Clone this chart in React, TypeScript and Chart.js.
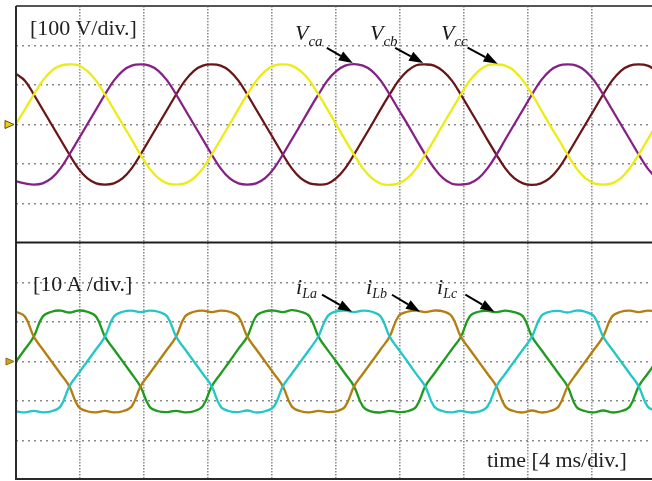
import React, { useEffect, useRef } from 'react';
import { Chart, registerables } from 'chart.js';

Chart.register(...registerables);

// ---- sampling grid (time axis, ms) : one sample every 1/24 of the mains period ----
const STEP_MS = 0.556;
const timeMs: number[] = Array.from({ length: 73 }, (_, i) => Math.round(i * STEP_MS * 1000) / 1000);

// ---- axis divisions ----
const xGridMs = [4, 8, 12, 16, 20, 24, 28, 32, 36];
const voltGrid = [-200, -100, 0, 100, 200];
const currGrid = [-20, -10, 0, 10, 20];
const X_MAX_MS = 39.75;

// ---- capacitor voltages [V] ----
const vca = [
  -144, -149, -152, -149, -136, -111, -76, -38,
  0, 38, 76, 111, 136, 149, 152, 149, 136, 111, 76, 38, 0, -38, -76, -111, -136, -149, -152, -149, -136, -111, -76, -38,
  0, 39, 76, 111, 135, 149, 153, 149, 136, 111, 76, 38, 1, -38, -76, -110, -136, -150, -152, -149, -136, -111, -77, -38,
  0, 38, 76, 111, 136, 149, 152, 149, 136, 111, 76, 38, 0, -38, -76, -111, -136,
];
const vcb = [
  128, 111, 76, 38, 0, -38, -76, -111, -136, -149, -152, -149, -136, -111, -76, -38,
  0, 38, 76, 111, 136, 149, 152, 149, 136, 111, 76, 38, 0, -38, -76, -111, -136, -149, -152, -150, -136, -111, -76, -38,
  0, 39, 76, 111, 136, 150, 152, 149, 135, 111, 76, 38, 0, -39, -76, -111, -136, -149, -153, -149, -136, -111, -76, -38,
  0, 38, 76, 111, 136, 149, 152, 149, 136,
];
const vcc = [
  2, 38, 76, 111, 136, 149, 152, 150, 136, 111, 76, 38, 0, -38, -77, -111, -136, -149, -152, -149, -136, -111, -76, -38,
  0, 39, 76, 110, 135, 149, 152, 149, 135, 111, 76, 39, 0, -39, -76, -111, -136, -150, -153, -149, -136, -111, -76, -39,
  0, 38, 76, 111, 136, 150, 152, 149, 136, 111, 77, 38, -1, -38, -76, -111, -136, -149, -152, -149, -136, -110, -76, -38,
  0,
];

// ---- line currents [A] ----
const iLa = [
  -12.6, -12.9, -12.5, -12.9, -12.6, -11.4, -6.3, -3.1,
  0, 3.1, 6.3, 11.4, 12.6, 12.9, 12.5, 12.9, 12.6, 11.4, 6.3, 3.1, 0, -3.1, -6.3, -11.4, -12.6, -12.8, -12.4, -12.9, -12.6, -11.4, -6.3, -3.1,
  0, 3.1, 6.4, 11.4, 12.7, 12.9, 12.5, 12.9, 12.6, 11.4, 6.3, 3.1, 0, -3.2, -6.3, -11.4, -12.6, -12.9, -12.5, -12.9, -12.7, -11.4, -6.3, -3.1,
  0, 3.1, 6.3, 11.4, 12.6, 12.8, 12.4, 12.9, 12.6, 11.4, 6.3, 3.1, 0, -3.1, -6.3, -11.4, -12.6,
];
const iLb = [
  12.6, 11.4, 6.3, 3.1, 0, -3.1, -6.3, -11.4, -12.6, -12.9, -12.5, -12.9, -12.6, -11.4, -6.3, -3.1,
  0, 3.1, 6.3, 11.4, 12.6, 12.9, 12.5, 12.9, 12.6, 11.4, 6.3, 3.1, 0, -3.1, -6.3, -11.4, -12.6, -12.9, -12.5, -12.8, -12.6, -11.4, -6.3, -3.1,
  0, 3.1, 6.3, 11.5, 12.6, 12.9, 12.5, 12.9, 12.7, 11.4, 6.3, 3.1, 0, -3.1, -6.3, -11.4, -12.6, -12.9, -12.4, -12.9, -12.6, -11.4, -6.4, -3.1,
  0, 3.1, 6.3, 11.4, 12.6, 12.9, 12.5, 12.9, 12.6,
];
const iLc = [
  0, 3.1, 6.3, 11.4, 12.6, 12.9, 12.4, 12.9, 12.6, 11.4, 6.3, 3.1, 0, -3.1, -6.4, -11.4, -12.6, -12.8, -12.5, -12.9, -12.6, -11.3, -6.3, -3.1,
  0, 3.2, 6.3, 11.5, 12.7, 12.9, 12.5, 13.0, 12.6, 11.4, 6.3, 3.0, 0, -3.1, -6.3, -11.4, -12.7, -12.9, -12.5, -12.8, -12.6, -11.4, -6.3, -3.1,
  0, 3.1, 6.2, 11.4, 12.6, 12.8, 12.5, 12.9, 12.5, 11.4, 6.3, 3.1, 0, -3.1, -6.3, -11.5, -12.6, -12.9, -12.4, -12.9, -12.6, -11.4, -6.3, -3.1,
  0,
];

// ---- annotation arrows: tip in data units, tail as pixel offset ----
const voltArrows = [
  { t: 21.05, v: 156, dx: -26, dy: -15 },
  { t: 25.45, v: 156, dx: -28, dy: -15 },
  { t: 30.1, v: 154, dx: -30, dy: -16 },
];
const currArrows = [
  { t: 21.0, v: 12.6, dx: -30, dy: -17 },
  { t: 25.25, v: 12.6, dx: -28, dy: -17 },
  { t: 29.9, v: 12.6, dx: -29, dy: -17 },
];

const toXY = (ys: number[]) => ys.map((y, i) => ({ x: timeMs[i], y }));

function drawArrow(ctx: CanvasRenderingContext2D, x0: number, y0: number, x1: number, y1: number) {
  const ang = Math.atan2(y1 - y0, x1 - x0);
  const head = 14;
  const w = 5;
  const bx = x1 - head * Math.cos(ang);
  const by = y1 - head * Math.sin(ang);
  ctx.strokeStyle = '#000';
  ctx.fillStyle = '#000';
  ctx.lineWidth = 2;
  ctx.beginPath();
  ctx.moveTo(x0, y0);
  ctx.lineTo(bx, by);
  ctx.stroke();
  ctx.beginPath();
  ctx.moveTo(x1, y1);
  ctx.lineTo(bx - w * Math.sin(ang), by + w * Math.cos(ang));
  ctx.lineTo(bx + w * Math.sin(ang), by - w * Math.cos(ang));
  ctx.closePath();
  ctx.fill();
}

const scopePlugin = {
  id: 'scopeFrame',
  afterDraw(chart: any) {
    const { ctx, chartArea: a, scales } = chart;
    const x = scales.x;
    const yV = scales.yV;
    const yI = scales.yI;
    ctx.save();
    ctx.setLineDash([]);
    // frame
    ctx.lineWidth = 2;
    ctx.strokeStyle = '#555';
    ctx.beginPath();
    ctx.moveTo(a.left, a.top);
    ctx.lineTo(a.right, a.top);
    ctx.stroke();
    ctx.strokeStyle = '#2a2a2a';
    ctx.beginPath();
    ctx.moveTo(a.left, a.top);
    ctx.lineTo(a.left, a.bottom);
    ctx.stroke();
    ctx.beginPath();
    ctx.moveTo(a.left, a.bottom - 1);
    ctx.lineTo(a.right, a.bottom - 1);
    ctx.stroke();
    ctx.strokeStyle = '#1e1e1e';
    ctx.beginPath();
    ctx.moveTo(a.left, yV.bottom - 0.5);
    ctx.lineTo(a.right, yV.bottom - 0.5);
    ctx.stroke();
    // arrows
    for (const ar of voltArrows) {
      const tx = x.getPixelForValue(ar.t);
      const ty = yV.getPixelForValue(ar.v);
      drawArrow(ctx, tx + ar.dx, ty + ar.dy, tx, ty);
    }
    for (const ar of currArrows) {
      const tx = x.getPixelForValue(ar.t);
      const ty = yI.getPixelForValue(ar.v);
      drawArrow(ctx, tx + ar.dx, ty + ar.dy, tx, ty);
    }
    // ground markers
    const g1 = yV.getPixelForValue(0);
    ctx.fillStyle = '#e4d400';
    ctx.strokeStyle = '#7a3a10';
    ctx.lineWidth = 1;
    ctx.beginPath();
    ctx.moveTo(5, g1 - 4);
    ctx.lineTo(14, g1);
    ctx.lineTo(5, g1 + 4);
    ctx.closePath();
    ctx.fill();
    ctx.stroke();
    const g2 = yI.getPixelForValue(0);
    ctx.fillStyle = '#d0a020';
    ctx.strokeStyle = '#8a6a10';
    ctx.beginPath();
    ctx.moveTo(6, g2 - 3.5);
    ctx.lineTo(14, g2);
    ctx.lineTo(6, g2 + 3.5);
    ctx.closePath();
    ctx.fill();
    ctx.stroke();
    ctx.restore();
  },
};

const SERIF = '"Liberation Serif", "Times New Roman", serif';

const textBase: React.CSSProperties = {
  position: 'absolute',
  fontFamily: SERIF,
  fontSize: 22,
  lineHeight: '22px',
  color: '#222',
  whiteSpace: 'nowrap',
};

function SubLabel(props: { left: number; top: number; main: string; sub: string; subTop: number; subSize: number }) {
  return (
    <div style={{ ...textBase, left: props.left, top: props.top, fontStyle: 'italic', color: '#1a1a1a' }}>
      {props.main}
      <span style={{ fontSize: props.subSize, position: 'relative', top: props.subTop }}>{props.sub}</span>
    </div>
  );
}

export default function App() {
  const ref = useRef<HTMLCanvasElement>(null);

  useEffect(() => {
    const canvas = ref.current;
    if (!canvas) return;
    const lineDs = (label: string, ys: number[], color: string, axis: string) => ({
      label,
      data: toXY(ys),
      borderColor: color,
      backgroundColor: color,
      borderWidth: 2.3,
      pointRadius: 0,
      fill: false,
      tension: 0.4,
      yAxisID: axis,
    });
    const yCommon = {
      type: 'linear' as const,
      position: 'left' as const,
      stack: 'osc',
      stackWeight: 1,
      ticks: { display: false },
      grid: { drawTicks: false, color: '#8a8a8a', lineWidth: 1.6 },
      border: { display: false, dash: [2, 4] },
    };
    const chart = new Chart(canvas, {
      type: 'line',
      data: {
        datasets: [
          lineDs('Vcc', vcc, '#ecec12', 'yV'),
          lineDs('Vca', vca, '#861f86', 'yV'),
          lineDs('Vcb', vcb, '#6a1616', 'yV'),
          lineDs('iLa', iLa, '#24c6c6', 'yI'),
          lineDs('iLb', iLb, '#b47e10', 'yI'),
          lineDs('iLc', iLc, '#1f9c1f', 'yI'),
        ],
      },
      options: {
        animation: false,
        responsive: false,
        events: [],
        layout: { padding: { left: 16, top: 6, right: 0, bottom: 1 } },
        plugins: { legend: { display: false }, tooltip: { enabled: false } },
        scales: {
          x: {
            type: 'linear',
            min: 0,
            max: X_MAX_MS,
            ticks: { display: false },
            grid: { drawTicks: false, color: '#8e8e8e', lineWidth: 1.6 },
            border: { display: false, dash: [1.5, 1.5] },
            afterBuildTicks: (s: any) => {
              s.ticks = xGridMs.map((v) => ({ value: v }));
            },
          },
          yI: {
            ...yCommon,
            weight: 0,
            min: -30,
            max: 30,
            afterBuildTicks: (s: any) => {
              s.ticks = currGrid.map((v) => ({ value: v }));
            },
          },
          yV: {
            ...yCommon,
            weight: 1,
            min: -300,
            max: 300,
            afterBuildTicks: (s: any) => {
              s.ticks = voltGrid.map((v) => ({ value: v }));
            },
          },
        },
      } as any,
      plugins: [scopePlugin],
    });
    return () => chart.destroy();
  }, []);

  return (
    <div style={{ position: 'absolute', left: 0, top: 0, width: 652, height: 481, background: '#fff', overflow: 'hidden' }}>
      <canvas ref={ref} width={652} height={481} style={{ display: 'block' }} />
      <div style={{ ...textBase, left: 30, top: 17 }}>[100 V/div.]</div>
      <div style={{ ...textBase, left: 33, top: 273 }}>[10 A /div.]</div>
      <div style={{ ...textBase, left: 487, top: 449 }}>time [4 ms/div.]</div>
      <SubLabel left={295} top={22} main="V" sub="ca" subTop={6} subSize={15} />
      <SubLabel left={370} top={22} main="V" sub="cb" subTop={6} subSize={15} />
      <SubLabel left={441} top={22} main="V" sub="cc" subTop={6} subSize={15} />
      <SubLabel left={296} top={276} main="i" sub="La" subTop={4} subSize={14} />
      <SubLabel left={366} top={276} main="i" sub="Lb" subTop={4} subSize={14} />
      <SubLabel left={437} top={276} main="i" sub="Lc" subTop={4} subSize={14} />
    </div>
  );
}
